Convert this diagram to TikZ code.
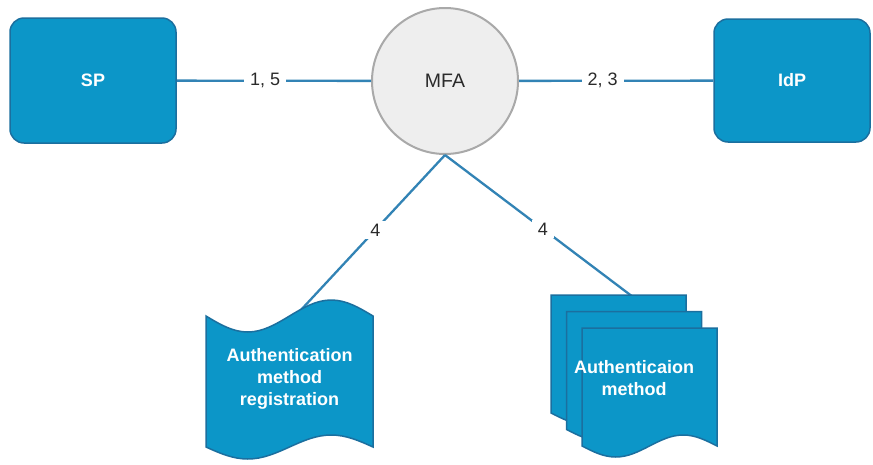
\documentclass[tikz,border=0pt]{standalone}
\usepackage{fontspec}
\setmainfont{Liberation Sans}
\definecolor{boxblue}{HTML}{0C96C8}
\definecolor{boxedge}{HTML}{1B6F9F}
\definecolor{lineblue}{HTML}{3283B5}
\definecolor{circfill}{HTML}{EEEEEE}
\definecolor{circedge}{HTML}{A9A9A9}
\definecolor{txtdark}{HTML}{2A2A2A}
\begin{document}
\begin{tikzpicture}[x=1pt,y=-1pt,
  box/.style={draw=boxedge, line width=1.5pt, fill=boxblue, rounded corners=14pt,
    text=white, font=\fontsize{18}{22}\selectfont\bfseries},
  mfastyle/.style={circle, draw=circedge, line width=2pt, fill=circfill,
    text=txtdark, font=\fontsize{19.5}{23}\selectfont, minimum size=146pt, inner sep=0pt},
  conn/.style={draw=lineblue, line width=2.3pt},
  lbl/.style={fill=white, text=txtdark, font=\fontsize{18}{22}\selectfont,
    inner xsep=6pt, inner ysep=3pt},
  doc/.style={draw=boxedge, line width=1.5pt, fill=boxblue},
  doctext/.style={text=white, align=center, font=\fontsize{18}{22}\selectfont\bfseries}
]
\useasboundingbox[fill=white] (0,0) rectangle (873,464);

\node[box, minimum width=166pt, minimum height=125pt] (sp) at (93,80.5) {SP};
\node[box, minimum width=156pt, minimum height=123pt] (idp) at (792,80.5) {IdP};
\node[mfastyle] (mfa) at (445,81) {MFA};

\coordinate (regtop) at (300,311);
\coordinate (multitop) at (633,297);

\draw[conn] (sp) -- node[lbl,pos=0.455]{1, 5} (mfa);
\draw[conn] (mfa) -- node[lbl,pos=0.43]{2, 3} (idp);
\draw[conn] (mfa.south) -- node[lbl,pos=0.48]{4} (regtop);
\draw[conn] (mfa.south) -- node[lbl,pos=0.52]{4} (multitop);

% tape shape: authentication method registration
\path[doc] (206,316) sin (247.75,332) cos (289.5,316) sin (331.25,300) cos (373,316)
  -- (373,447) sin (331.25,435) cos (289.5,447) sin (247.75,459) cos (206,447) -- cycle;

% multi-document shape
\path[doc] (551,295) -- (686,295) -- (686,413) sin (652.25,402) cos (618.5,413)
  sin (584.75,424) cos (551,413) -- cycle;
\path[doc] (566.5,311.5) -- (701.5,311.5) -- (701.5,429.5) sin (667.75,418.5) cos (634,429.5)
  sin (600.25,440.5) cos (566.5,429.5) -- cycle;
\path[doc] (582,328) -- (717,328) -- (717,446) sin (683.25,435) cos (649.5,446)
  sin (615.75,457) cos (582,446) -- cycle;

\node[doctext] (regtext) at (289.5,379) {Authentication\\method\\registration};
\node[doctext] (multitext) at (634,378) {Authenticaion\\method};
\end{tikzpicture}
\end{document}
